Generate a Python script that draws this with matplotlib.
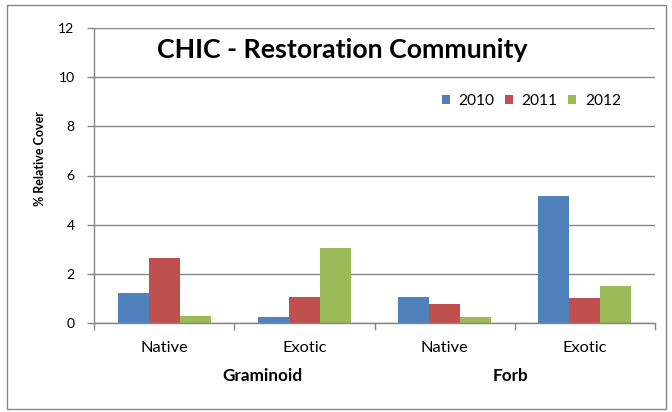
import matplotlib
matplotlib.use("Agg")
import matplotlib.pyplot as plt
import numpy as np
from matplotlib.patches import Rectangle

categories = ["Native", "Exotic", "Native", "Exotic"]
groups = ["Graminoid", "Forb"]
years = ["2010", "2011", "2012"]
values_2010 = [1.21, 0.26, 1.04, 5.16]
values_2011 = [2.64, 1.04, 0.76, 1.00]
values_2012 = [0.28, 3.05, 0.25, 1.49]
colors = ["#4F81BD", "#C0504D", "#9BBB59"]
yticks = [0, 2, 4, 6, 8, 10, 12]

plt.rcParams['font.family'] = ['Lato', 'DejaVu Sans']

W, H = 672, 412
fig = plt.figure(figsize=(W / 100, H / 100), dpi=100)
fig.patch.set_facecolor("white")

def fx(px):
    return px / W

def fy(py):
    return 1 - py / H

ax = fig.add_axes([fx(94), fy(323), fx(655) - fx(94), fy(28) - fy(323)])

x = np.arange(len(categories))
bw = 0.2214
series = [values_2010, values_2011, values_2012]
for i, (vals, col, yr) in enumerate(zip(series, colors, years)):
    ax.bar(x + (i - 1) * bw, vals, width=bw, color=col, label=yr, zorder=3,
           edgecolor="none")

ax.set_xlim(-0.5, 3.5)
ax.set_ylim(0, 12)
ax.set_yticks(yticks)
ax.set_yticklabels([str(v) for v in yticks], fontsize=10, color="#000000")
ax.set_xticks(x)
ax.set_xticklabels(categories, fontsize=11.8)
ax.set_xticks(np.arange(-0.5, 4.0, 1.0), minor=True)
ax.tick_params(axis="x", which="major", length=0, pad=13)
ax.tick_params(axis="x", which="minor", length=5, width=1, color="#868686", direction="out")
ax.tick_params(axis="y", which="major", length=5, width=1, color="#868686", direction="out", pad=9)

ax.grid(axis="y", color="#868686", linewidth=1.0, zorder=0)
ax.set_axisbelow(True)
for s in ["top", "right"]:
    ax.spines[s].set_visible(False)
for s in ["left", "bottom"]:
    ax.spines[s].set_color("#868686")
    ax.spines[s].set_linewidth(1.0)
ax.spines["bottom"].set_zorder(4)

# Title
fig.text(fx(157), fy(58.3), "CHIC - Restoration Community", fontsize=19.3,
         fontweight="bold", ha="left", va="baseline")

# Y label
fig.text(fx(40), fy(158), "% Relative Cover", fontsize=9, fontweight="bold",
         rotation=90, ha="center", va="center")

# Group labels
fig.text(fx(262), fy(380.7), groups[0], fontsize=12.3, fontweight="bold",
         ha="center", va="baseline")
fig.text(fx(510), fy(380.7), groups[1], fontsize=12.3, fontweight="bold",
         ha="center", va="baseline")

# Legend
leg = ax.legend(loc="center left", bbox_to_anchor=(fx(442), fy(100.7)),
                bbox_transform=fig.transFigure, ncol=3, frameon=False,
                fontsize=11.2, handlelength=0.5, handleheight=0.5,
                handletextpad=0.55, columnspacing=0.7, borderpad=0,
                borderaxespad=0)

# Outer border
fig.patches.append(Rectangle((fx(7), fy(409)), fx(666) - fx(7), fy(5) - fy(409),
                             transform=fig.transFigure, fill=False,
                             edgecolor="#868686", linewidth=1.0))

fig.savefig("out.png", dpi=100, facecolor="white")
